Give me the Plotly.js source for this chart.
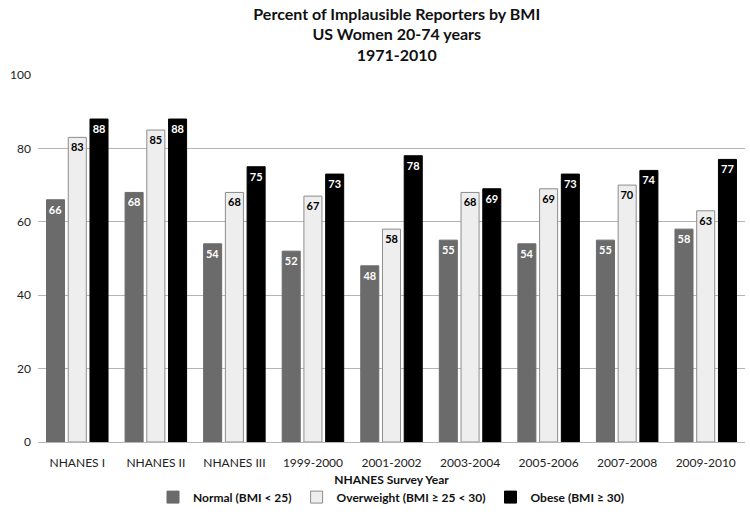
<!DOCTYPE html>
<html>
<head>
<meta charset="utf-8">
<script src="https://cdn.plot.ly/plotly-3.0.1.min.js"></script>
<style>
  body { margin: 0; background: #fff; }
  #chart { width: 750px; height: 515px; }
</style>
</head>
<body>
<div id="chart"></div>
<script>
// survey years
var surveys = ["NHANES I", "NHANES II", "NHANES III", "1999-2000", "2001-2002",
               "2003-2004", "2005-2006", "2007-2008", "2009-2010"];

// percent implausible reporters per BMI class
var normal = [66, 68, 54, 52, 48, 55, 54, 55, 58];
var overweight = [83, 85, 68, 67, 58, 68, 69, 70, 63];
var obese = [88, 88, 75, 73, 78, 69, 73, 74, 77];

var fnt = "Lato, 'Open Sans', sans-serif";

function makeTrace(vals, name, fill, line, txtColor) {
  return {
    x: surveys,
    y: vals,
    type: "bar",
    name: name,
    text: vals.map(String),
    textposition: "inside",
    insidetextanchor: "end",
    textangle: 0,
    insidetextfont: { family: fnt, size: 11, color: txtColor, weight: "bold" },
    marker: { color: fill, line: { color: line, width: 1 } },
    hoverinfo: "none"
  };
}

var data = [
  makeTrace(normal, "Normal (BMI < 25)", "#6b6b6b", "#6b6b6b", "#ffffff"),
  makeTrace(overweight, "Overweight (BMI ≥ 25 < 30)", "#eeeeee", "#8c8c8c", "#000000"),
  makeTrace(obese, "Obese (BMI ≥ 30)", "#000000", "#000000", "#ffffff")
];

var layout = {
  width: 750,
  height: 515,
  margin: { l: 38, r: 5, t: 75, b: 72 },
  paper_bgcolor: "#ffffff",
  plot_bgcolor: "#ffffff",
  font: { family: fnt, size: 12, color: "#222" },
  title: {
    text: "Percent of Implausible Reporters by BMI<br>US Women 20-74 years<br>1971-2010",
    font: { family: fnt, size: 16, color: "#111", weight: "bold" },
    x: 0.529, xanchor: "center", y: 0.962, yanchor: "middle"
  },
  barmode: "group",
  bargap: 0.17,
  bargroupgap: 0.17,
  uniformtext: { mode: "show", minsize: 11 },
  xaxis: {
    title: { text: "NHANES Survey Year", font: { family: fnt, size: 12, color: "#111", weight: "bold" }, standoff: 6 },
    tickfont: { family: fnt, size: 12, color: "#222" },
    showline: false,
    ticks: "",
    ticklabelstandoff: 12,
    automargin: false
  },
  yaxis: {
    range: [0, 100],
    dtick: 20,
    showgrid: true,
    gridcolor: "#b4b4b4",
    gridwidth: 1,
    zeroline: true,
    zerolinecolor: "#b4b4b4",
    zerolinewidth: 1,
    showline: false,
    ticks: "",
    ticklabelstandoff: 6,
    tickfont: { family: fnt, size: 12, color: "#222" },
    automargin: false,
    fixedrange: true
  },
  showlegend: true,
  legend: {
    orientation: "h",
    x: 0.5, xanchor: "center",
    y: -0.147, yanchor: "middle",
    font: { family: fnt, size: 12, color: "#111", weight: "bold" },
    itemwidth: 30,
    traceorder: "normal"
  }
};

Plotly.newPlot("chart", data, layout, { displayModeBar: false, staticPlot: true });
</script>
</body>
</html>
